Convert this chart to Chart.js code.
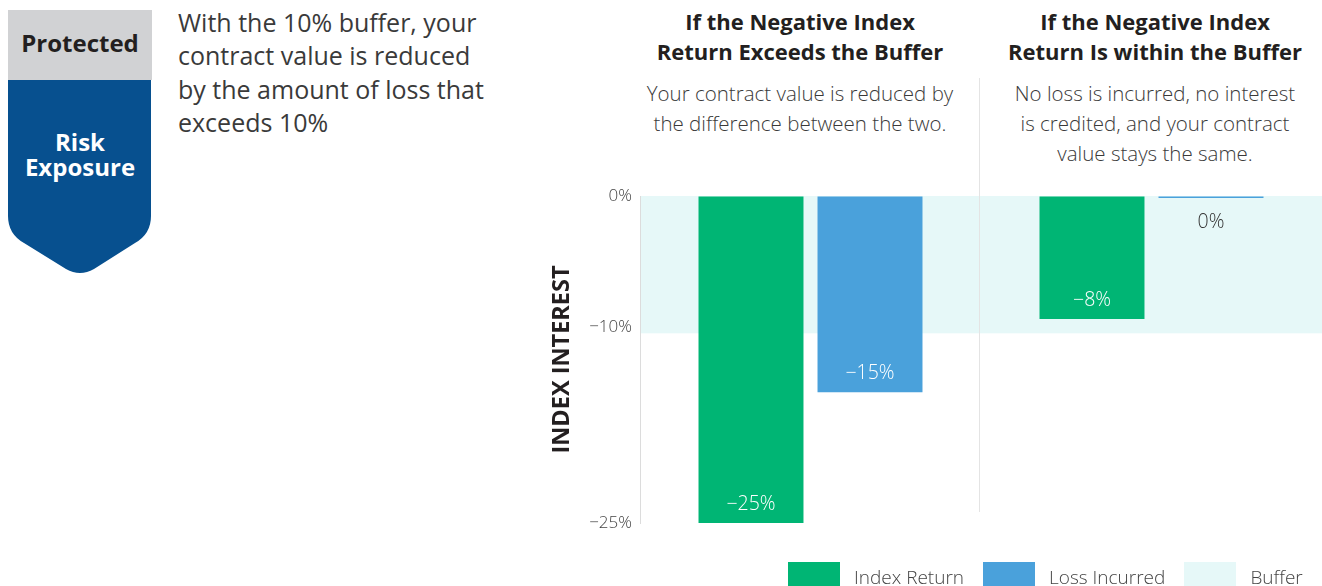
<!DOCTYPE html>
<html>
<head>
<meta charset="utf-8">
<script src="https://cdn.jsdelivr.net/npm/chart.js@4.4.1/dist/chart.umd.min.js"></script>
<style>
  html, body { margin: 0; padding: 0; background: #fff; }
  body { width: 1322px; height: 586px; position: relative; overflow: hidden; font-family: "Open Sans", Lato, sans-serif; color: #333; }
  #badge { position: absolute; left: 0; top: 0; }
  .intro { position: absolute; left: 178px; top: 6px; font-size: 25px; line-height: 33.3px; color: #3a3a3a; }
  .col { position: absolute; width: 380px; text-align: center; }
  .col h2 { margin: 0; font-size: 22px; line-height: 30px; font-weight: 700; color: #231f20; }
  .col p { margin: 0; position: absolute; top: 72px; left: 0; width: 100%; font-size: 20.5px; line-height: 30px; font-weight: 300; color: #3a3a3a; }
  #wrap { position: absolute; left: 540px; top: 0; width: 782px; height: 586px; }
  #legend { position: absolute; left: 788px; top: 562px; display: flex; }
  #legend .item { display: flex; margin-right: 19px; }
  #legend .box { width: 52px; height: 30px; margin-right: 14px; }
  #legend .txt { font-size: 19px; line-height: 30px; font-weight: 300; color: #444; }
</style>
</head>
<body>

<svg id="badge" width="170" height="290">
  <rect x="8" y="10" width="144" height="70" fill="#d1d2d4"/>
  <text x="80" y="52" text-anchor="middle" font-family="Open Sans" font-weight="700" font-size="24" fill="#231f20">Protected</text>
  <path d="M8,80 H151 V216 Q151,234 135,243 L94,269 Q80,277 66,269 L24,243 Q8,234 8,216 Z" fill="#07508f"/>
  <text x="80" y="151" text-anchor="middle" font-family="Open Sans" font-weight="700" font-size="24" fill="#fff">Risk</text>
  <text x="80" y="176" text-anchor="middle" font-family="Open Sans" font-weight="700" font-size="24" fill="#fff">Exposure</text>
</svg>

<div class="intro">With the 10% buffer, your<br>contract value is reduced<br>by the amount of loss that<br>exceeds 10%</div>

<div class="col" style="left:610px; top:6px;">
  <h2>If the Negative Index<br>Return Exceeds the Buffer</h2>
  <p>Your contract value is reduced by<br>the difference between the two.</p>
</div>
<div class="col" style="left:965px; top:6px;">
  <h2>If the Negative Index<br>Return Is within the Buffer</h2>
  <p>No loss is incurred, no interest<br>is credited, and your contract<br>value stays the same.</p>
</div>

<div id="wrap"><canvas id="grafica"></canvas></div>
<div id="legend"></div>

<script>
const categorias = ['Exceeds the Buffer', 'Within the Buffer'];
const indexReturn = [-25, -9.4];
const lossIncurred = [-15, 0];
const indexReturnLabels = ['\u221225%', '\u22128%'];
const lossIncurredLabels = ['\u221215%', '0%'];
const bufferRange = [0, -10.5];
const yTicks = [0, -10, -25];
const legendLabels = ['Index Return', 'Loss Incurred', 'Buffer'];
const colores = ['#00b574', '#4aa1db', '#e6f8f8'];

// banda del buffer y linea divisoria
const fondo = {
  id: 'fondo',
  beforeDatasetsDraw(chart){
    const {ctx, chartArea, scales} = chart;
    const y1 = scales.y.getPixelForValue(bufferRange[0]);
    const y2 = scales.y.getPixelForValue(bufferRange[1]);
    ctx.save();
    ctx.fillStyle = colores[2];
    ctx.fillRect(chartArea.left + 1, y1, chartArea.right - chartArea.left, y2 - y1);
    const xm = (scales.x.getPixelForValue(0) + scales.x.getPixelForValue(1)) / 2 - 2;
    ctx.strokeStyle = '#e4e4e4';
    ctx.lineWidth = 1;
    ctx.beginPath();
    ctx.moveTo(Math.round(xm) + 0.5, 78);
    ctx.lineTo(Math.round(xm) + 0.5, 512);
    ctx.stroke();
    ctx.restore();
  }
};

// etiquetas de valor dentro de las barras
const etiquetas = {
  id: 'etiquetas',
  afterDatasetsDraw(chart){
    const ctx = chart.ctx;
    const textos = [indexReturnLabels, lossIncurredLabels];
    ctx.save();
    ctx.font = '300 19.5px "Open Sans"';
    ctx.textAlign = 'center';
    ctx.textBaseline = 'middle';
    chart.data.datasets.forEach((ds, d) => {
      chart.getDatasetMeta(d).data.forEach((bar, i) => {
        if (ds.data[i] === 0) {
          ctx.fillStyle = '#333';
          ctx.fillText(textos[d][i], bar.x, bar.base + 26);
        } else {
          ctx.fillStyle = '#fff';
          ctx.fillText(textos[d][i], bar.x, bar.y - 19);
        }
      });
    });
    ctx.restore();
  }
};

const ctx = document.getElementById('grafica').getContext('2d');
new Chart(ctx, {
  type: 'bar',
  data: {
    labels: categorias,
    datasets: [
      { label: legendLabels[0], data: indexReturn, backgroundColor: colores[0] },
      { label: legendLabels[1], data: lossIncurred, backgroundColor: colores[1], minBarLength: 2 }
    ]
  },
  options: {
    responsive: true,
    maintainAspectRatio: false,
    animation: false,
    categoryPercentage: 0.698,
    barPercentage: 0.882,
    layout: { padding: { top: 196, bottom: 63, left: 0, right: 0 } },
    scales: {
      x: { display: false },
      y: {
        min: -25,
        max: 0,
        afterBuildTicks: scale => { scale.ticks = yTicks.map(v => ({ value: v })); },
        afterFit: scale => { scale.width = 100; },
        border: { display: true, color: '#dcdcdc' },
        grid: { drawTicks: false, color: c => c.tick && c.tick.value === 0 ? '#d8d8d8' : 'transparent' },
        ticks: {
          padding: 8,
          color: '#444',
          font: { family: 'Open Sans', size: 17, weight: '300' },
          callback: v => v === 0 ? '0%' : '\u2212' + Math.abs(v) + '%'
        },
        title: {
          display: true,
          text: 'INDEX INTEREST',
          color: '#231f20',
          font: { family: 'Open Sans', size: 23.5, weight: '700' },
          padding: { top: 8, bottom: 0 }
        }
      }
    },
    plugins: { legend: { display: false }, tooltip: { enabled: false } }
  },
  plugins: [fondo, etiquetas]
});

// leyenda
const leyenda = document.getElementById('legend');
legendLabels.forEach((t, i) => {
  leyenda.innerHTML += '<div class="item"><div class="box" style="background:' + colores[i] + '"></div><div class="txt">' + t + '</div></div>';
});
</script>
</body>
</html>
